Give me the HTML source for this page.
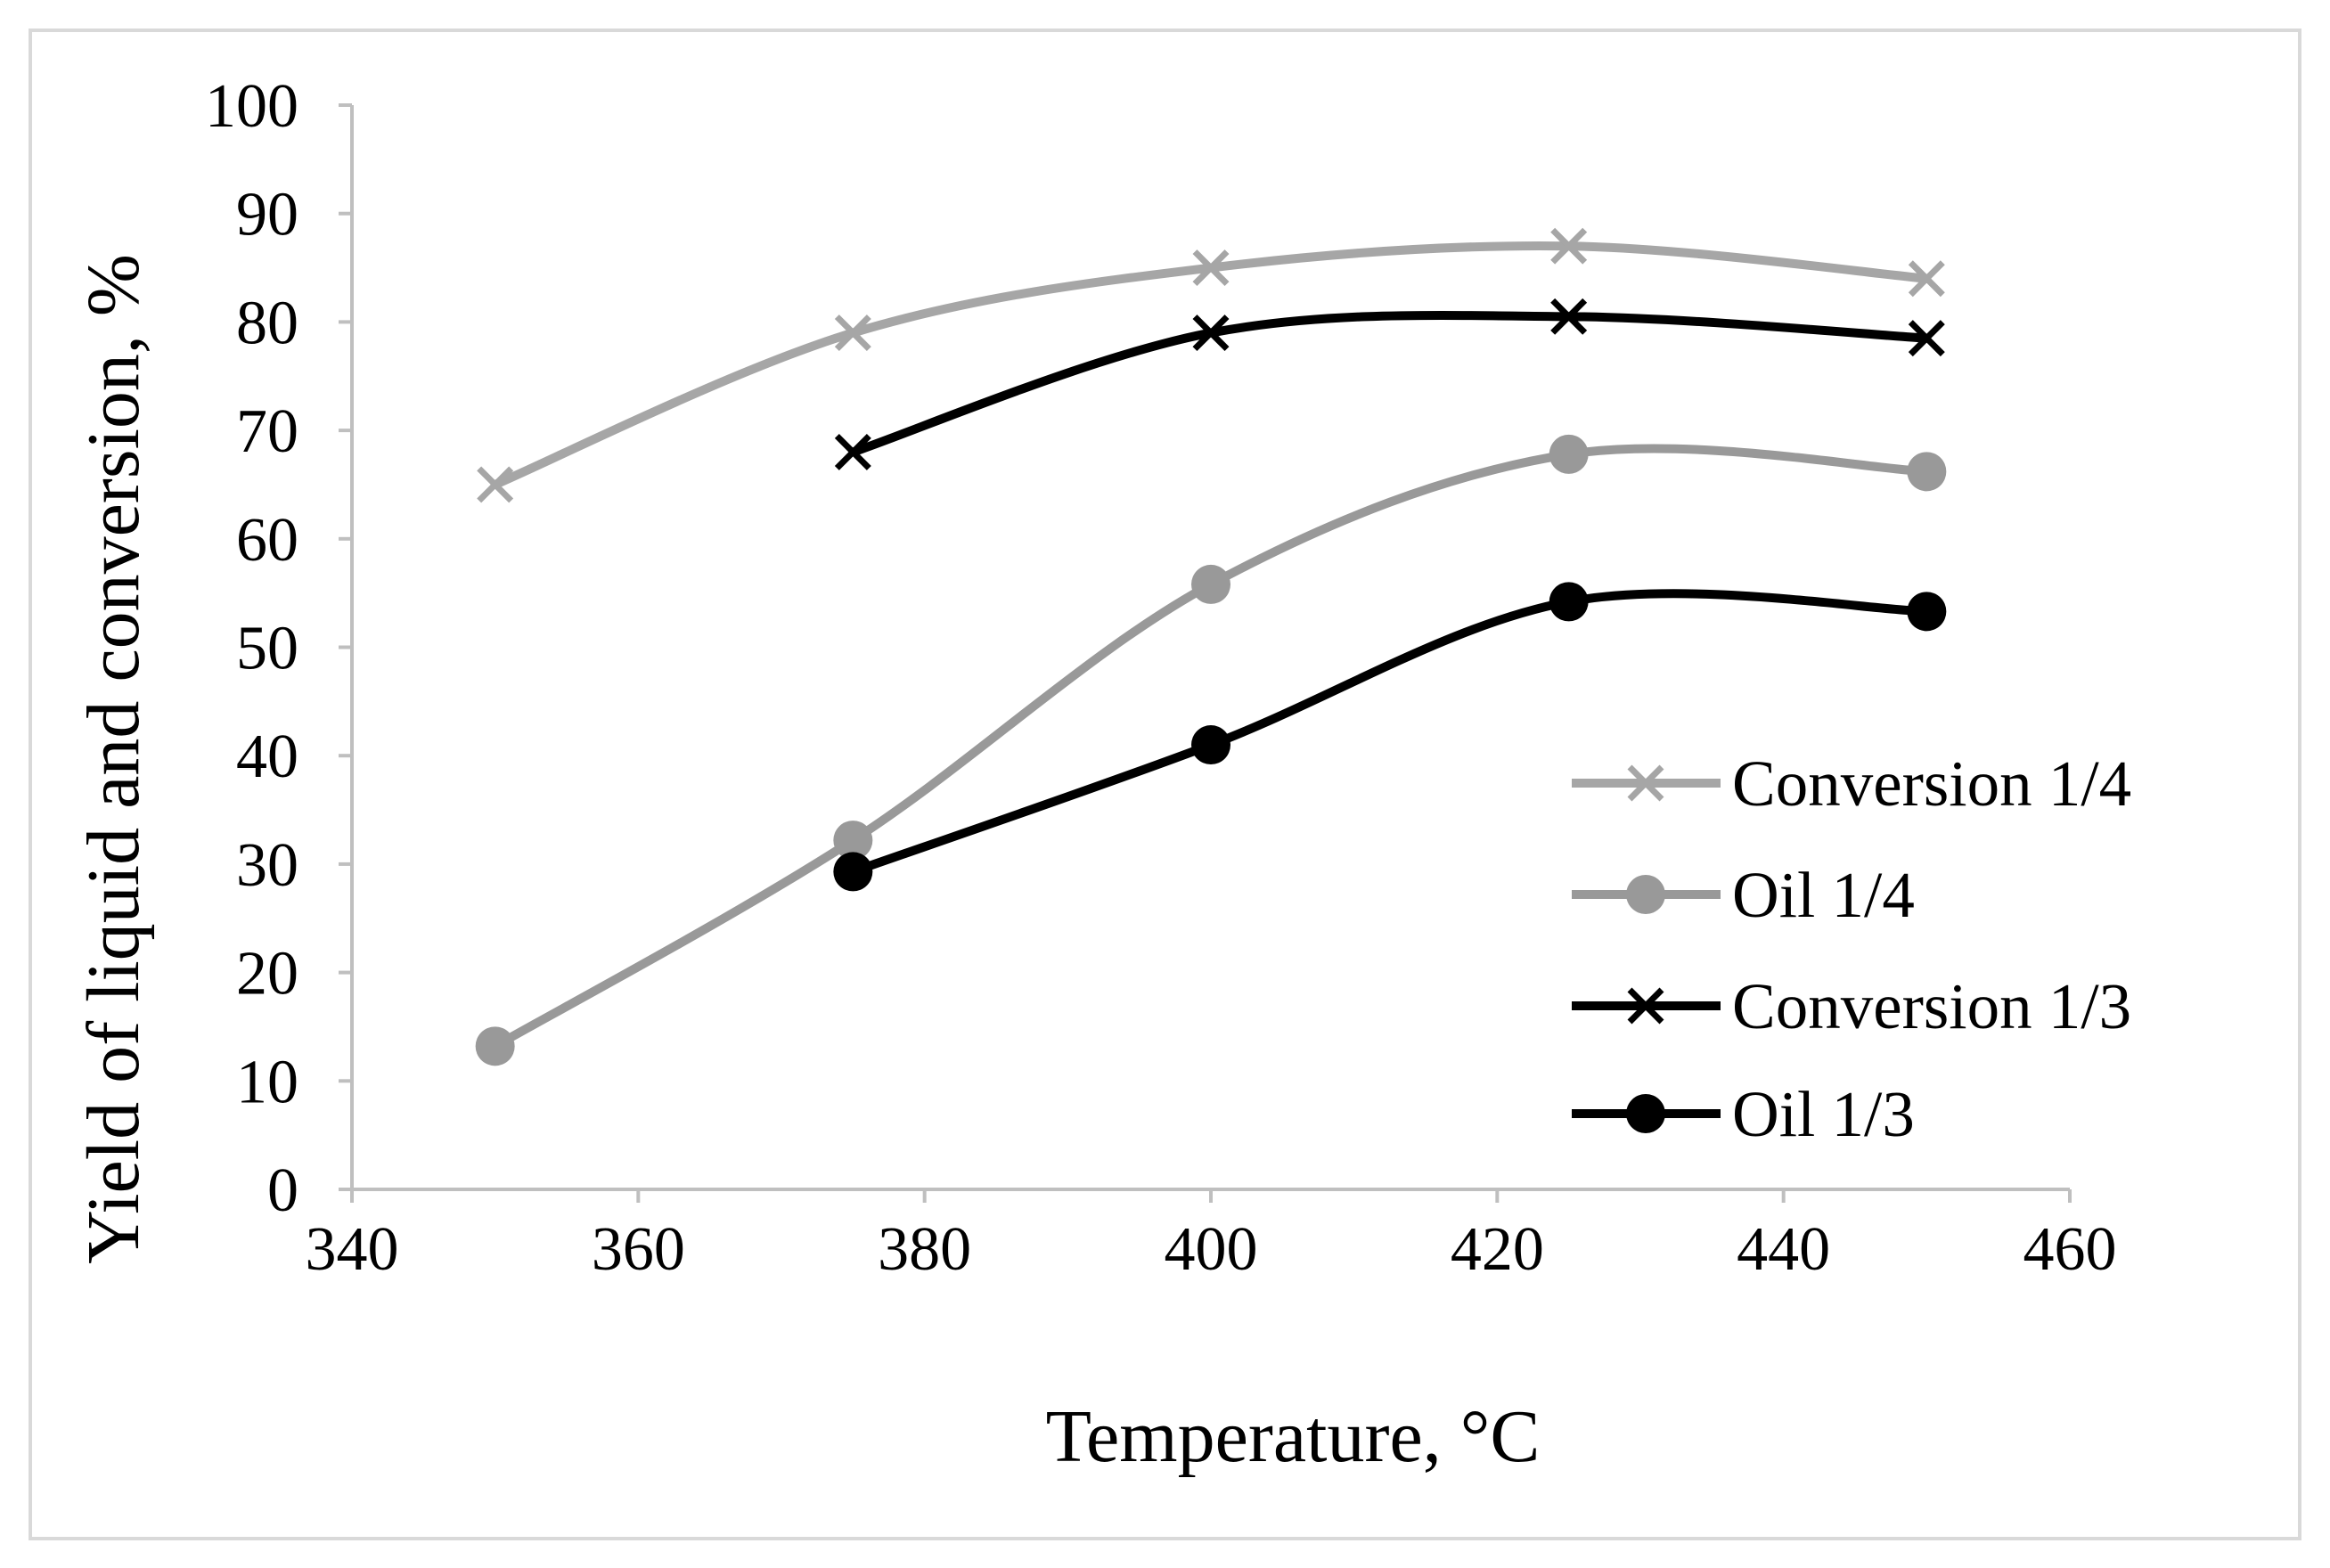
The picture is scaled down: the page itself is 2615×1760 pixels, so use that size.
<!DOCTYPE html>
<html><head><meta charset="utf-8"><style>
html,body{margin:0;padding:0;background:#fff}
svg{display:block}
text{font-family:"Liberation Serif",serif;fill:#000}
</style></head><body>
<svg width="2615" height="1760" viewBox="0 0 2615 1760">
<rect x="34" y="34" width="2547" height="1693" fill="#fff" stroke="#d9d9d9" stroke-width="4"/>
<g id="axes"></g>
<g id="series"></g>
<g id="legend"></g>
<text x="1451" y="1640" font-size="84" text-anchor="middle">Temperature, °C</text>
<text transform="translate(155,852) rotate(-90)" font-size="84" text-anchor="middle">Yield of liquid and conversion, %</text>
</svg>
<script>
const xTicks=[340,360,380,400,420,440,460];
const yTicks=[0,10,20,30,40,50,60,70,80,90,100];
const seriesNames=["Conversion 1/4","Oil 1/4","Conversion 1/3","Oil 1/3"];
const conv14X=[350,375,400,425,450];
const conv14Y=[65,79,85,87,84];
const oil14X=[350,375,400,425,450];
const oil14Y=[13.2,32.2,55.8,67.8,66.2];
const conv13X=[375,400,425,450];
const conv13Y=[68,79,80.5,78.5];
const oil13X=[375,400,425,450];
const oil13Y=[29.3,41,54.2,53.3];

const NS="http://www.w3.org/2000/svg";
const X0=395,X1=2323,Y0=1335,Y1=118;
const sx=v=>X0+(v-340)/(460-340)*(X1-X0);
const sy=v=>Y0-(v-0)/(100-0)*(Y0-Y1);
function mk(tag,attrs,parent){const e=document.createElementNS(NS,tag);for(const k in attrs)e.setAttribute(k,attrs[k]);parent.appendChild(e);return e;}
const axes=document.getElementById('axes');
const ax=mk('line',{x1:X0,y1:Y0,x2:X1,y2:Y0,stroke:'#bfbfbf','stroke-width':4},axes);


const ay=mk('line',{x1:X0,y1:Y0,x2:X0,y2:Y1,stroke:'#bfbfbf','stroke-width':4},axes);


xTicks.forEach(t=>{
  const tk=mk('line',{x1:sx(t),y1:Y0,x2:sx(t),y2:Y0+15,stroke:'#bfbfbf','stroke-width':4},axes);
  
  
  const tx=mk('text',{x:sx(t),y:Y0+90,'font-size':70,'text-anchor':'middle'},axes);
  tx.textContent=t;
  
  
});
yTicks.forEach(t=>{
  const tk=mk('line',{x1:X0-15,y1:sy(t),x2:X0,y2:sy(t),stroke:'#bfbfbf','stroke-width':4},axes);
  
  
  const tx=mk('text',{x:X0-60,y:sy(t)+24,'font-size':70,'text-anchor':'end'},axes);
  tx.textContent=t;
  
  
});
function smooth(pts){
  let d='M'+pts[0][0]+','+pts[0][1];
  for(let i=0;i<pts.length-1;i++){
    const p0=pts[Math.max(0,i-1)],p1=pts[i],p2=pts[i+1],p3=pts[Math.min(pts.length-1,i+2)];
    const c1=[p1[0]+(p2[0]-p0[0])/6,p1[1]+(p2[1]-p0[1])/6];
    const c2=[p2[0]-(p3[0]-p1[0])/6,p2[1]-(p3[1]-p1[1])/6];
    d+=' C'+c1+' '+c2+' '+p2;
  }
  return d;
}
function marker(g,type,x,y,col,name){
  if(type==='x'){
    const s=18;
    const m=mk('path',{d:`M${x-s},${y-s}L${x+s},${y+s}M${x-s},${y+s}L${x+s},${y-s}`,stroke:col,'stroke-width':7,fill:'none'},g);
    
    
  } else {
    const m=mk('circle',{cx:x,cy:y,r:22,fill:col},g);
    
    
  }
}
const sg=document.getElementById('series');
const defs=[
 [conv14X,conv14Y,'#a6a6a6','x','conversion-1-4'],
 [oil14X,oil14Y,'#999999','o','oil-1-4'],
 [conv13X,conv13Y,'#000','x','conversion-1-3'],
 [oil13X,oil13Y,'#000','o','oil-1-3']
];
defs.forEach(([xs,ys,col,type,name])=>{
  const g=mk('g',{},sg);
  
  
  const pts=xs.map((v,i)=>[sx(v),sy(ys[i])]);
  const p=mk('path',{d:smooth(pts),stroke:col,'stroke-width':10,fill:'none','stroke-linecap':'round'},g);
  
  
  pts.forEach(pt=>marker(g,type,pt[0],pt[1],col,name+'-point'));
});
const lg=document.getElementById('legend');


const ly=[879,1004,1129,1250];
defs.forEach((d,i)=>{
  const g=mk('g',{},lg);
  
  
  const l=mk('line',{x1:1764,y1:ly[i],x2:1931,y2:ly[i],stroke:d[2],'stroke-width':10},g);
  
  
  marker(g,d[3],1847,ly[i],d[2],'legend-marker');
  const t=mk('text',{x:1944,y:ly[i]+25,'font-size':73},g);
  t.textContent=seriesNames[i];
  
  
});
</script>
</body></html>
